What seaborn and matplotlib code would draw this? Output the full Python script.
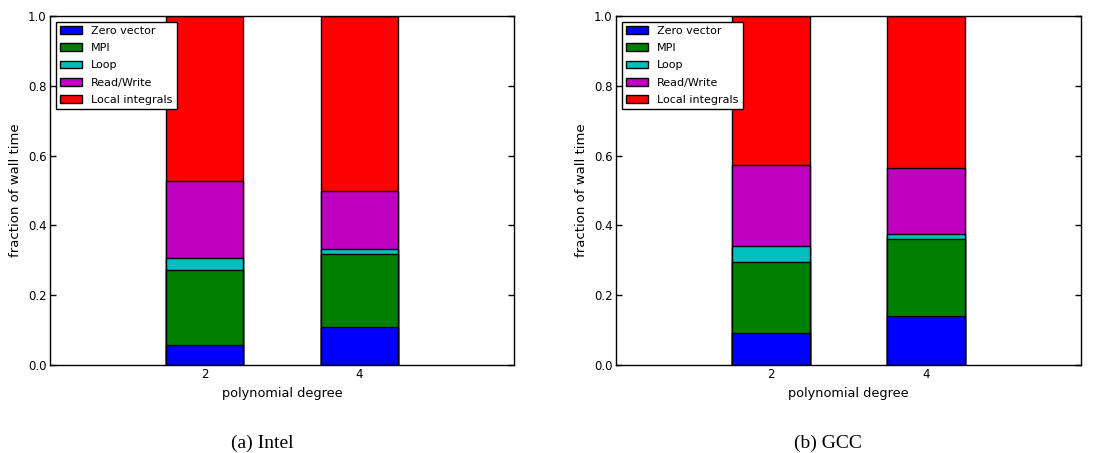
import matplotlib
matplotlib.use("Agg")
import matplotlib.pyplot as plt
import seaborn as sns
import pandas as pd
import numpy as np

# ---- data ----
degrees = [2, 4]
components = ["Zero vector", "MPI", "Loop", "Read/Write", "Local integrals"]
colors = ["#0000ff", "#008000", "#00bfbf", "#bf00bf", "#ff0000"]

intel_zero = [0.057, 0.108]
intel_mpi = [0.214, 0.210]
intel_loop = [0.035, 0.015]
intel_rw = [0.220, 0.165]
intel_local = [0.474, 0.502]

gcc_zero = [0.092, 0.140]
gcc_mpi = [0.202, 0.220]
gcc_loop = [0.048, 0.016]
gcc_rw = [0.231, 0.189]
gcc_local = [0.427, 0.435]

captions = ["(a) Intel", "(b) GCC"]
yticks = [0.0, 0.2, 0.4, 0.6, 0.8, 1.0]

sns.set_theme(style="ticks", rc={
    "xtick.direction": "in", "ytick.direction": "in",
    "xtick.top": True, "ytick.right": True,
    "xtick.major.size": 4, "ytick.major.size": 4,
    "axes.linewidth": 1.0, "axes.edgecolor": "black",
    "xtick.color": "black", "ytick.color": "black",
    "axes.labelcolor": "black", "text.color": "black",
})
plt.rcParams["font.family"] = ["DejaVu Sans"]

fig = plt.figure(figsize=(10.98, 4.53), dpi=100)
ax1 = fig.add_axes([50 / 1098, 1 - 365 / 453, 464 / 1098, 349 / 453])
ax2 = fig.add_axes([616 / 1098, 1 - 365 / 453, 465 / 1098, 349 / 453])

datasets = [
    [intel_zero, intel_mpi, intel_loop, intel_rw, intel_local],
    [gcc_zero, gcc_mpi, gcc_loop, gcc_rw, gcc_local],
]
caption_x = [262 / 1098, 828 / 1098]

for ax, layers, cap, cx in zip([ax1, ax2], datasets, captions, caption_x):
    cum = np.cumsum(np.array(layers), axis=0)
    # draw from top layer down so lower segments overlay
    for i in range(len(components) - 1, -1, -1):
        df = pd.DataFrame({"degree": degrees, "value": cum[i]})
        sns.barplot(data=df, x="degree", y="value", native_scale=True,
                    width=0.5, color=colors[i], saturation=1,
                    edgecolor="black", linewidth=1.0, label=components[i],
                    errorbar=None, ax=ax)
    ax.set_xlim(0, 6)
    ax.set_ylim(0, 1.0)
    ax.set_xticks(degrees)
    ax.set_xticklabels([str(d) for d in degrees])
    ax.set_yticks(yticks)
    ax.set_yticklabels([f"{t:.1f}" for t in yticks])
    ax.tick_params(labelsize=8.5, width=1, pad=2.5)
    ax.set_xlabel("polynomial degree", fontsize=9.3)
    ax.set_ylabel("fraction of wall time", fontsize=9.5)
    ax.yaxis.set_label_coords(-28 / 464, 0.5)
    ax.xaxis.set_label_coords(0.5, -22 / 349)
    for s in ax.spines.values():
        s.set_visible(True)
    handles, labels = ax.get_legend_handles_labels()
    order = [labels.index(c) for c in components]
    leg = ax.legend([handles[k] for k in order], [labels[k] for k in order],
                    loc="upper left", fontsize=8, fancybox=False,
                    framealpha=1, edgecolor="black", borderaxespad=0.5,
                    handlelength=2.0, labelspacing=0.65)
    leg.get_frame().set_linewidth(1.0)
    fig.text(cx, 1 - 443 / 453, cap,
             ha="center", va="center", fontsize=14,
             family=["Liberation Serif", "DejaVu Serif"])

fig.savefig("out.png", dpi=100)
